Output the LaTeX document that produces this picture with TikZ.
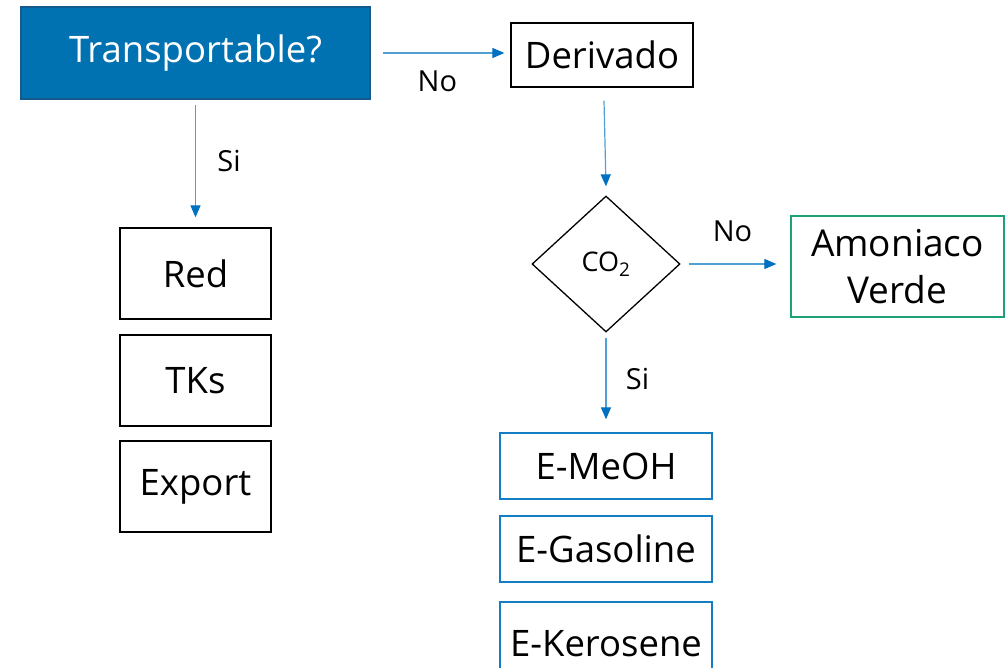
\documentclass[tikz,border=0pt]{standalone}
\usepackage{fontspec}
\setmainfont{Open Sans}
\usetikzlibrary{shapes.geometric,arrows.meta}
\definecolor{tblue}{RGB}{0,114,178}
\definecolor{tborder}{RGB}{20,90,140}
\definecolor{lineblue}{RGB}{80,160,210}
\definecolor{headblue}{RGB}{0,112,192}
\definecolor{bblue}{RGB}{20,125,195}
\definecolor{tgreen}{RGB}{30,160,120}
\tikzset{
  box/.style={draw=black, line width=1.3pt, rectangle, inner sep=0pt, font=\fontsize{36.5}{44}\selectfont},
  bluebox/.style={box, draw=bblue},
  greenbox/.style={box, draw=tgreen, align=center},
  conn/.style={draw=lineblue, line width=1.2pt, -{Triangle[length=12pt,width=10pt,fill=headblue,color=headblue]}},
  lbl/.style={font=\fontsize{29}{34}\selectfont}
}
\begin{document}
\begin{tikzpicture}[x=1pt,y=-1pt]
\useasboundingbox (0,0) rectangle (1007,667);
\clip (0,0) rectangle (1007,667);
\node[box, fill=tblue, draw=tborder, text=white, minimum width=349pt, minimum height=92pt] (t) at (195.5,53) {Transportable?};
\node[box, minimum width=182pt, minimum height=64pt] (d) at (602,55) {Derivado};
\node[draw=black, line width=1.3pt, diamond, minimum width=148pt, minimum height=136pt, inner sep=0pt, font=\fontsize{27}{32}\selectfont] (c) at (606,264) {CO\textsubscript{2}};
\node[greenbox, minimum width=213pt, minimum height=101pt, font=\fontsize{37}{47}\selectfont] (a) at (897.5,266.5) {Amoniaco\\Verde};
\node[box, minimum width=151pt, minimum height=91pt] (r) at (195.5,273.5) {Red};
\node[box, minimum width=151pt, minimum height=91pt] (k) at (195.5,380.5) {TKs};
\node[box, minimum width=151pt, minimum height=91pt] (e) at (195.5,486.5) {Export};
\node[bluebox, minimum width=212pt, minimum height=66pt] (m) at (606,466) {E-MeOH};
\node[bluebox, minimum width=212pt, minimum height=66pt] (g) at (606,549) {E-Gasoline};
\node[bluebox, minimum width=212pt, minimum height=84pt] (ke) at (606,644) {E-Kerosene};
\draw[conn] ([xshift=12pt]t.east) -- ([xshift=-6pt]d.west |- t.east) node[lbl, pos=0.45, below=14pt] {No};
\draw[conn] ([yshift=-5pt]t.south) -- ([yshift=10pt]r.north) node[lbl, midway, right=18pt] {Si};
\draw[conn] ([xshift=2pt,yshift=-13pt]d.south) -- ([yshift=9pt]c.north);
\draw[conn] ([xshift=8pt]c.east) -- ([xshift=-14pt]a.west |- c.east) node[lbl, midway, above=18pt] {No};
\draw[conn] ([yshift=-5pt]c.south) -- ([yshift=13pt]m.north) node[lbl, midway, right=16pt] {Si};
\end{tikzpicture}
\end{document}
